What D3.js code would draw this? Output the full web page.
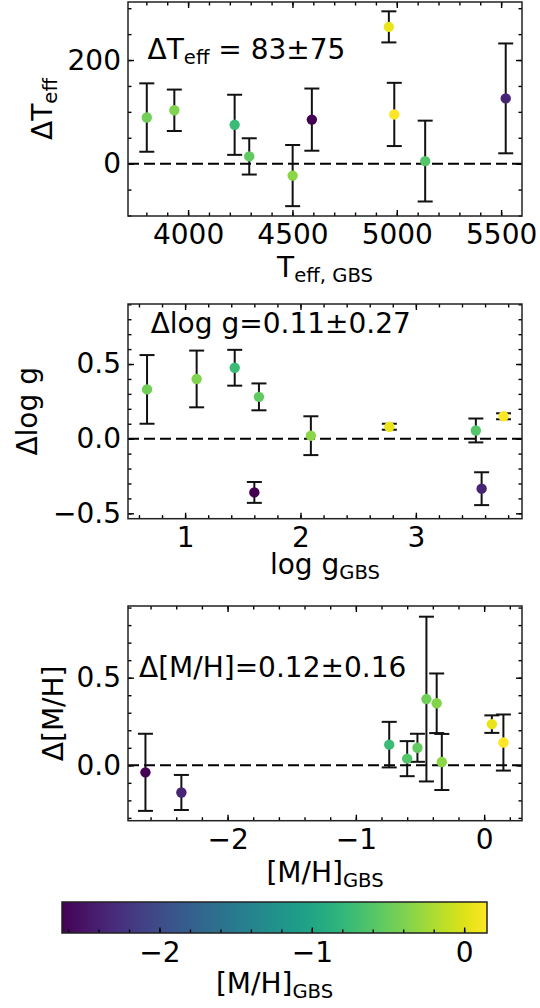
<!DOCTYPE html>
<html><head><meta charset="utf-8">
<script src="https://cdn.jsdelivr.net/npm/d3@7"></script>
<style>body{margin:0;background:#fff} text{font-family:"DejaVu Sans",sans-serif}</style>
</head><body><svg id="c" width="540" height="1008"></svg>
<script>
// ---- Panel 1 : Teff ----
const teffGBS  = [3802, 3934, 4223, 4293, 4501, 4593, 4962, 4988, 5136, 5522];
const dTeff    = [89, 103, 75, 14, -23, 85, 264, 95, 5, 126];
const dTeffErr = [66, 40, 58, 35, 59, 60, 30, 61, 78, 106];
const mhTeff   = [-0.45, -0.39, -0.74, -0.53, -0.33, -2.64, 0.06, 0.15, -0.60, -2.36];
const teffTicks = [4000, 4500, 5000, 5500];
const dTeffTicks = [0, 200];
// ---- Panel 2 : log g ----
const loggGBS  = [0.67, 1.10, 1.43, 1.64, 1.60, 2.09, 2.77, 3.52, 3.57, 3.76];
const dLogg    = [0.33, 0.40, 0.475, 0.28, -0.36, 0.02, 0.08, 0.055, -0.335, 0.15];
const dLoggErr = [0.23, 0.19, 0.12, 0.09, 0.07, 0.13, 0.02, 0.08, 0.11, 0.02];
const mhLogg   = [-0.45, -0.39, -0.74, -0.53, -2.64, -0.33, 0.06, -0.60, -2.36, 0.15];
const loggTicks = [1, 2, 3];
const dLoggTicks = [-0.5, 0.0, 0.5];
// ---- Panel 3 : [M/H] ----
const mhGBS   = [-2.64, -2.36, -0.74, -0.60, -0.52, -0.45, -0.37, -0.33, 0.06, 0.15];
const dMH     = [-0.04, -0.155, 0.118, 0.038, 0.10, 0.378, 0.354, 0.019, 0.235, 0.13];
const dMHErr  = [0.22, 0.10, 0.13, 0.10, 0.08, 0.47, 0.17, 0.16, 0.05, 0.16];
const mhTicks = [-2, -1, 0];
const dMHTicks = [0.0, 0.5];
const cbarTicks = [-2, -1, 0];

const svg = d3.select("#c");
const FS = 28, SUB = 5;
const cmin = d3.min(mhGBS), cmax = d3.max(mhGBS);
const color = d3.scaleSequential(d3.interpolateViridis).domain([cmin, cmax]);
const minus = s => String(s).replace("-", "\u2212");

function rich(g, parts) {
  const t = g.append("text").attr("font-size", FS).attr("fill", "#000");
  let low = false;
  parts.forEach(p => {
    const ts = t.append("tspan").text(p[0]);
    if (p[1]) { ts.attr("font-size", FS * 0.7); if (!low) { ts.attr("dy", SUB); low = true; } }
    else if (low) { ts.attr("dy", -SUB); low = false; }
  });
  return t;
}

function axis(g, fn, scale, vals, size, pad, fmt, tr) {
  const a = fn(scale).tickValues(vals).tickSize(-size).tickPadding(pad).tickFormat(fmt || (() => ""));
  const ag = g.append("g").attr("transform", tr).call(a);
  ag.select(".domain").remove();
  ag.selectAll("line").attr("stroke", "#000").attr("stroke-width", 1.4);
  ag.selectAll("text").attr("font-size", FS).attr("fill", "#000").attr("font-family", "DejaVu Sans");
  return ag;
}

function panel(c) {
  const x = d3.scaleLinear().domain(c.xd).range([c.box[0], c.box[1]]);
  const y = d3.scaleLinear().domain(c.yd).range([c.box[3], c.box[2]]);
  const g = svg.append("g");
  const [x0, x1, y0, y1] = c.box;
  // minor ticks
  axis(g, d3.axisBottom, x, c.xMinor, 3.5, 0, null, `translate(0,${y1})`);
  axis(g, d3.axisTop, x, c.xMinor, 3.5, 0, null, `translate(0,${y0})`);
  axis(g, d3.axisLeft, y, c.yMinor, 3.5, 0, null, `translate(${x0},0)`);
  axis(g, d3.axisRight, y, c.yMinor, 3.5, 0, null, `translate(${x1},0)`);
  // major ticks
  axis(g, d3.axisBottom, x, c.xMajor, 6, 8, c.xFmt, `translate(0,${y1})`);
  axis(g, d3.axisTop, x, c.xMajor, 6, 0, null, `translate(0,${y0})`);
  axis(g, d3.axisLeft, y, c.yMajor, 6, 7, c.yFmt, `translate(${x0},0)`);
  axis(g, d3.axisRight, y, c.yMajor, 6, 0, null, `translate(${x1},0)`);
  // zero line
  g.append("line").attr("x1", x0).attr("x2", x1).attr("y1", y(0)).attr("y2", y(0))
    .attr("stroke", "#000").attr("stroke-width", 2).attr("stroke-dasharray", "11,5");
  // error bars
  const idx = d3.range(c.xs.length);
  const eb = g.append("g").attr("stroke", "#111").attr("stroke-width", 2);
  idx.forEach(i => {
    const xi = x(c.xs[i]), lo = y(c.ys[i] - c.es[i]), hi = y(c.ys[i] + c.es[i]);
    eb.append("line").attr("x1", xi).attr("x2", xi).attr("y1", lo).attr("y2", hi);
    eb.append("line").attr("x1", xi - 7.5).attr("x2", xi + 7.5).attr("y1", lo).attr("y2", lo);
    eb.append("line").attr("x1", xi - 7.5).attr("x2", xi + 7.5).attr("y1", hi).attr("y2", hi);
  });
  g.append("g").selectAll("circle").data(idx).join("circle")
    .attr("cx", i => x(c.xs[i])).attr("cy", i => y(c.ys[i])).attr("r", 5.2)
    .attr("fill", i => color(c.cs[i]));
  // frame
  g.append("rect").attr("x", x0).attr("y", y0).attr("width", x1 - x0).attr("height", y1 - y0)
    .attr("fill", "none").attr("stroke", "#222").attr("stroke-width", 1.5);
  // labels
  rich(g, c.xlabel).attr("x", (x0 + x1) / 2).attr("y", c.xlabelY).attr("text-anchor", "middle");
  rich(g, c.ylabel).attr("text-anchor", "middle")
    .attr("transform", `translate(${c.ylabelX},${(y0 + y1) / 2}) rotate(-90)`);
  rich(g, c.note).attr("x", c.noteXY[0]).attr("y", c.noteXY[1]);
}

panel({
  box: [128, 522, 2, 216], xd: [3712, 5600], yd: [-101, 312],
  xs: teffGBS, ys: dTeff, es: dTeffErr, cs: mhTeff,
  xMajor: teffTicks, xMinor: d3.range(3800, 5600, 100),
  yMajor: dTeffTicks, yMinor: d3.range(-100, 301, 50),
  xFmt: d => d, yFmt: d => minus(d),
  xlabel: [["T"], ["eff, GBS", 1]], xlabelY: 277,
  ylabel: [["\u0394T"], ["eff", 1]], ylabelX: 52,
  note: [["\u0394T"], ["eff", 1], [" = 83\u00b175"]], noteXY: [147.6, 59]
});
panel({
  box: [128, 522, 304, 518.7], xd: [0.505, 3.92], yd: [-0.536, 0.902],
  xs: loggGBS, ys: dLogg, es: dLoggErr, cs: mhLogg,
  xMajor: loggTicks, xMinor: d3.range(0.6, 3.95, 0.2),
  yMajor: dLoggTicks, yMinor: d3.range(-0.5, 0.95, 0.1),
  xFmt: d => d, yFmt: d => minus(d.toFixed(1)),
  xlabel: [["log g"], ["GBS", 1]], xlabelY: 574,
  ylabel: [["\u0394log g"]], ylabelX: 37,
  note: [["\u0394log g=0.11\u00b10.27"]], noteXY: [150.7, 333]
});
panel({
  box: [128, 522, 606, 820.7], xd: [-2.776, 0.295], yd: [-0.316, 0.909],
  xs: mhGBS, ys: dMH, es: dMHErr, cs: mhGBS,
  xMajor: mhTicks, xMinor: d3.range(-2.6, 0.3, 0.2),
  yMajor: dMHTicks, yMinor: d3.range(-0.3, 0.95, 0.1),
  xFmt: d => minus(d), yFmt: d => minus(d.toFixed(1)),
  xlabel: [["[M/H]"], ["GBS", 1]], xlabelY: 882,
  ylabel: [["\u0394[M/H]"]], ylabelX: 63,
  note: [["\u0394[M/H]=0.12\u00b10.16"]], noteXY: [139, 677]
});

// ---- colorbar ----
const cb = svg.append("g");
const cx = d3.scaleLinear().domain([cmin, cmax]).range([62, 487]);
const grad = svg.append("defs").append("linearGradient").attr("id", "vir");
d3.range(0, 1.0001, 0.05).forEach(t => grad.append("stop").attr("offset", t).attr("stop-color", d3.interpolateViridis(t)));
cb.append("rect").attr("x", 62).attr("y", 902).attr("width", 425).attr("height", 31).attr("fill", "url(#vir)");
axis(cb, d3.axisBottom, cx, d3.range(-2.6, 0.1, 0.2), 3.5, 0, null, "translate(0,933)");
axis(cb, d3.axisBottom, cx, cbarTicks, 5.5, 9, d => minus(d), "translate(0,933)");
cb.append("rect").attr("x", 62).attr("y", 902).attr("width", 425).attr("height", 31)
  .attr("fill", "none").attr("stroke", "#222").attr("stroke-width", 1.5);
rich(cb, [["[M/H]"], ["GBS", 1]]).attr("x", 274.5).attr("y", 993).attr("text-anchor", "middle");
</script></body></html>
